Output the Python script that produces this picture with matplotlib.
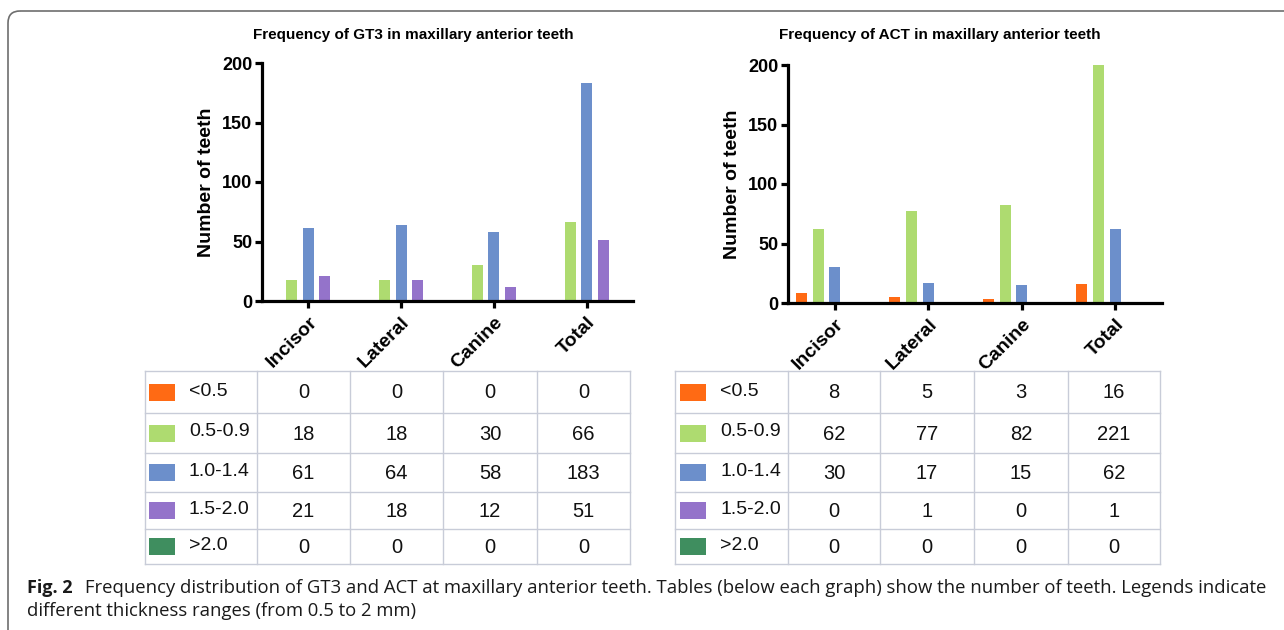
import matplotlib.pyplot as plt
from matplotlib.patches import FancyBboxPatch, Rectangle
import numpy as np

# data
categories = ['Incisor', 'Lateral', 'Canine', 'Total']
ranges = ['<0.5', '0.5-0.9', '1.0-1.4', '1.5-2.0', '>2.0']
colors = ['#FF6A14', '#AEDB70', '#6C8FCB', '#9473CA', '#3F8E5F']

gt3_lt05 = [0, 0, 0, 0]
gt3_05_09 = [18, 18, 30, 66]
gt3_10_14 = [61, 64, 58, 183]
gt3_15_20 = [21, 18, 12, 51]
gt3_gt20 = [0, 0, 0, 0]

act_lt05 = [8, 5, 3, 16]
act_05_09 = [62, 77, 82, 221]
act_10_14 = [30, 17, 15, 62]
act_15_20 = [0, 1, 0, 1]
act_gt20 = [0, 0, 0, 0]

gt3 = [gt3_lt05, gt3_05_09, gt3_10_14, gt3_15_20, gt3_gt20]
act = [act_lt05, act_05_09, act_10_14, act_15_20, act_gt20]

W, H = 1284, 630
fig = plt.figure(figsize=(W / 100, H / 100), dpi=100)
fig.patch.set_facecolor('white')

bold = dict(family=['Liberation Sans', 'DejaVu Sans'], weight='bold')


def px_axes(x0, x1, ytop, ybot):
    return fig.add_axes([x0 / W, (H - ybot) / H, (x1 - x0) / W, (ybot - ytop) / H])


def bar_chart(ax, series, title, title_x):
    x = np.arange(len(categories))
    pitch, width = 0.178, 0.118
    for i, vals in enumerate(series):
        ax.bar(x + (i - 2) * pitch, vals, width, color=colors[i], linewidth=0)
    ax.set_xlim(-0.5, 3.5)
    ax.set_ylim(0, 200)
    ax.set_yticks([0, 50, 100, 150, 200])
    ax.set_xticks(x)
    ax.set_xticklabels(categories, rotation=45, ha='right', rotation_mode='anchor',
                       fontsize=14, **bold)
    for lab in ax.get_yticklabels():
        lab.set_fontsize(13)
        lab.set_fontweight('bold')
        lab.set_family(['Liberation Sans', 'DejaVu Sans'])
    ax.spines['top'].set_visible(False)
    ax.spines['right'].set_visible(False)
    ax.spines['left'].set_linewidth(2.3)
    ax.spines['bottom'].set_linewidth(2.3)
    ax.tick_params(axis='both', direction='out', length=5, width=2.3, pad=2)
    ax.tick_params(axis='x', pad=4)
    ax.set_ylabel('Number of teeth', fontsize=14, labelpad=5, **bold)
    fig.text(title_x / W, 1 - 35 / H, title, ha='center', va='center',
             fontsize=11, **bold)


ax1 = px_axes(262, 633, 63, 301)
bar_chart(ax1, gt3, 'Frequency of GT3 in maxillary anterior teeth', 413)
ax2 = px_axes(788, 1162, 65, 303)
bar_chart(ax2, act, 'Frequency of ACT in maxillary anterior teeth', 940)

# overlay in pixel coordinates for tables, caption and frame
ov = fig.add_axes([0, 0, 1, 1], zorder=-1)
ov.set_xlim(0, W)
ov.set_ylim(H, 0)
ov.axis('off')

ov.add_patch(FancyBboxPatch((8, 11), 1320, 640, boxstyle='round,pad=0,rounding_size=12',
                            fill=False, edgecolor='#6E6E6E', linewidth=1.2))

reg = ['Liberation Sans', 'DejaVu Sans']
row_edges = [371, 413, 453, 492, 529, 564]


def draw_table(xs, series, sw_x, txt_x):
    for y in row_edges:
        ov.plot([xs[0], xs[-1]], [y, y], color='#C8CCD8', lw=1)
    for x in xs:
        ov.plot([x, x], [row_edges[0], row_edges[-1]], color='#C8CCD8', lw=1)
    for r, vals in enumerate(series):
        yc = (row_edges[r] + row_edges[r + 1]) / 2
        ov.add_patch(Rectangle((sw_x, yc - 8.5), 26, 17, facecolor=colors[r],
                               edgecolor='none'))
        ov.text(txt_x, yc - 1, ranges[r], ha='left', va='center', fontsize=14,
                family=reg, color='#111111')
        for c, v in enumerate(vals):
            xc = (xs[c + 1] + xs[c + 2]) / 2
            ov.text(xc, yc + 1, str(v), ha='center', va='center', fontsize=14.5,
                    family=reg, color='#111111')


draw_table([145, 257, 350, 443, 537, 630], gt3, 149, 189)
draw_table([675, 788, 880, 974, 1068, 1160], act, 680, 720)

cap = ['Open Sans', 'DejaVu Sans']
ov.text(27, 588, 'Fig. 2', ha='left', va='center', fontsize=13,
        family=cap, weight='bold', color='#1A1A1A')
ov.text(85, 588, 'Frequency distribution of GT3 and ACT at maxillary anterior teeth. '
        'Tables (below each graph) show the number of teeth. Legends indicate',
        ha='left', va='center', fontsize=13.3, family=cap, color='#1A1A1A')
ov.text(27, 611, 'different thickness ranges (from 0.5 to 2 mm)', ha='left',
        va='center', fontsize=13.3, family=cap, color='#1A1A1A')

fig.savefig('out.png', dpi=100)
